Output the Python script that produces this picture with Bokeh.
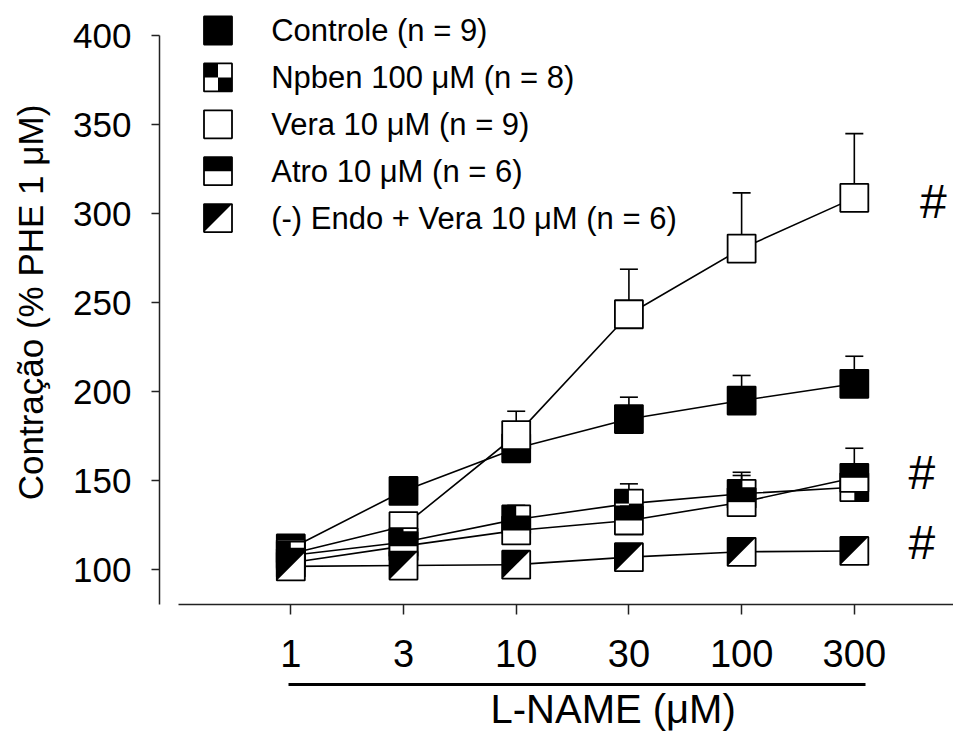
from bokeh.plotting import figure
from bokeh.models import Range1d, FixedTicker, LinearAxis
from bokeh.core.properties import value
from bokeh.embed import file_html
from bokeh.resources import INLINE

# ---------------- data ----------------
doses = ["1", "3", "10", "30", "100", "300"]
controle = [112.0, 144.3, 168.3, 184.7, 195.1, 204.5]
controle_sem = [3.0, 5.0, 8.0, 12.3, 14.1, 15.5]
npben = [108.0, 115.5, 128.3, 137.2, 142.7, 146.4]
npben_sem = [3.0, 4.0, 7.9, 11.1, 12.1, 8.0]
vera = [109.0, 124.5, 175.7, 243.6, 280.5, 309.0]
vera_sem = [3.0, 6.0, 13.4, 25.3, 31.3, 36.1]
atro = [104.0, 113.3, 122.1, 127.7, 138.0, 151.7]
atro_sem = [2.0, 4.0, 5.0, 8.0, 15.0, 16.6]
endo = [101.9, 102.4, 102.9, 107.1, 110.1, 110.6]
endo_sem = [1.5, 2.0, 2.0, 3.0, 3.0, 3.0]
y_ticks = [100, 150, 200, 250, 300, 350, 400]
legend_labels = ["Controle (n = 9)", "Npben 100 \u03bcM (n = 8)", "Vera 10 \u03bcM (n = 9)",
                 "Atro 10 \u03bcM (n = 6)", "(-) Endo + Vera 10 \u03bcM (n = 6)"]
y_title = "Contra\u00e7\u00e3o (% PHE 1 \u03bcM)"
x_title = "L-NAME (\u03bcM)"

# ---------------- layout ----------------
FONT = "Liberation Sans"
FL, FW, FH = 159, 794, 604
X0, X1 = -1.165, 5.88
Y0, Y1 = 80.5, 419.9
MS = 28  # marker size px

def dx(px):
    return px * (X1 - X0) / FW

def dy(px):
    return px * (Y1 - Y0) / FH

def xd(px):
    return X0 + dx(px - FL)

def yd(py):
    return Y1 - dy(py)

p = figure(frame_width=FW, frame_height=FH, x_range=Range1d(X0, X1), y_range=Range1d(Y0, Y1),
           output_backend="svg", toolbar_location=None, title_location="below",
           min_border_left=FL, min_border_right=0, min_border_top=0, min_border_bottom=127)
p.xgrid.visible = False
p.ygrid.visible = False
p.outline_line_color = None
p.background_fill_color = "white"
p.border_fill_color = "white"

# x-axis title (placed as a below-title so it can sit off-centre like the reference)
p.title.text = x_title
p.title.align = "left"
p.title.offset = 331
p.title.text_font = FONT
p.title.text_font_size = "40px"
p.title.text_font_style = "normal"
p.title.text_color = "black"
p.title.standoff = 0

AX = "#222222"
xa = p.xaxis[0]
xa.ticker = FixedTicker(ticks=list(range(len(doses))))
xa.major_label_overrides = {i: d for i, d in enumerate(doses)}
xa.bounds = (-1.0, X1)
xa.major_tick_out = 10
xa.major_tick_in = 0
xa.minor_tick_out = 0
xa.minor_tick_in = 0
xa.axis_line_width = 1.5
xa.axis_line_color = AX
xa.major_tick_line_color = AX
xa.major_tick_line_width = 1.5
xa.major_label_text_font = FONT
xa.major_label_text_font_size = "38px"
xa.major_label_text_color = "black"
xa.major_label_standoff = 25
xa.axis_label = "\u00a0"
xa.axis_label_text_font_size = "8px"
xa.axis_label_standoff = 3

ya = p.yaxis[0]
ya.ticker = FixedTicker(ticks=y_ticks)
ya.bounds = (Y0, 400)
ya.major_tick_out = 8
ya.major_tick_in = 0
ya.minor_tick_out = 0
ya.minor_tick_in = 0
ya.axis_line_width = 1.5
ya.axis_line_color = AX
ya.major_tick_line_color = AX
ya.major_tick_line_width = 1.5
ya.major_label_text_font = FONT
ya.major_label_text_font_size = "35px"
ya.major_label_text_color = "black"
ya.major_label_standoff = 20
ya.axis_label = y_title
ya.axis_label_text_font = FONT
ya.axis_label_text_font_size = "35px"
ya.axis_label_text_font_style = "normal"
ya.axis_label_text_color = "black"
ya.axis_label_standoff = 20

# thick bar under the dose labels
ax2 = LinearAxis(ticker=FixedTicker(ticks=[]), bounds=(-0.02, 5.10),
                 axis_line_width=3, axis_line_color="black",
                 major_tick_out=0, major_tick_in=0, minor_tick_out=0, minor_tick_in=0,
                 major_label_text_font_size="0px")
p.add_layout(ax2, "below")

idx = list(range(len(doses)))
series = [
    (controle, controle_sem, "solid"),
    (vera, vera_sem, "open"),
    (npben, npben_sem, "checker"),
    (atro, atro_sem, "half"),
    (endo, endo_sem, "diag"),
]

# connecting lines first
for vals, sem, kind in series:
    p.line(idx, vals, line_color="black", line_width=1.6)

hx, hy = dx(MS / 2), dy(MS / 2)

def draw_marker(xs, ys, kind):
    base = "black" if kind == "solid" else "white"
    p.rect(xs, ys, width=MS, height=MS, width_units="screen", height_units="screen",
           fill_color=base, line_color=None)
    if kind == "checker":
        p.rect([x - hx / 2 for x in xs], [y + hy / 2 for y in ys], width=MS / 2, height=MS / 2,
               width_units="screen", height_units="screen", fill_color="black", line_color=None)
        p.rect([x + hx / 2 for x in xs], [y - hy / 2 for y in ys], width=MS / 2, height=MS / 2,
               width_units="screen", height_units="screen", fill_color="black", line_color=None)
    elif kind == "half":
        p.rect(xs, [y + hy / 2 for y in ys], width=MS, height=MS / 2,
               width_units="screen", height_units="screen", fill_color="black", line_color=None)
    elif kind == "diag":
        p.patches([[x - hx, x + hx, x - hx] for x in xs], [[y + hy, y + hy, y - hy] for y in ys],
                  fill_color="black", line_color=None)
    p.rect(xs, ys, width=MS, height=MS, width_units="screen", height_units="screen",
           fill_color=None, line_color="black", line_width=1.8)

for vals, sem, kind in series:
    tops = [v + s for v, s in zip(vals, sem)]
    p.segment(idx, vals, idx, tops, line_color="black", line_width=1.6)
    p.scatter(idx, tops, marker="dash", size=18, line_color="black", line_width=1.6)
    draw_marker(idx, vals, kind)

# legend
leg_kinds = ["solid", "checker", "open", "half", "diag"]
for i, (lab, kind) in enumerate(zip(legend_labels, leg_kinds)):
    cy = yd(30 + i * 46.9)
    draw_marker([xd(217.5)], [cy], kind)
    p.text(x=[xd(270.7)], y=[cy], text=[lab], text_font=value(FONT), text_font_size="31px",
           text_baseline="middle", text_align="left", text_color="black")

# significance marks
p.text(x=[idx[-1]] * 3, y=[vera[-1], atro[-1], endo[-1]], text=["#", "#", "#"],
       x_offset=[79, 67.5, 67.5], y_offset=[4, -5, -8],
       text_font=value(FONT), text_font_size="48px", text_baseline="middle",
       text_align="center", text_color="black")

open("out.html", "w").write(file_html(p, INLINE))
